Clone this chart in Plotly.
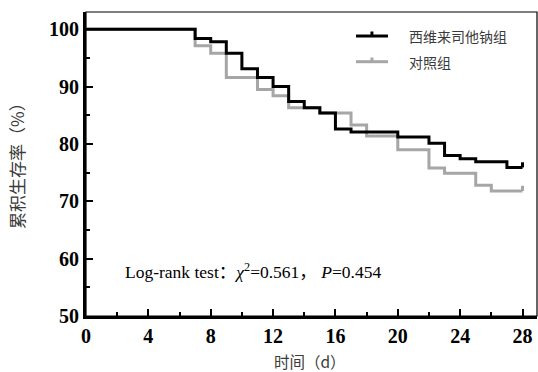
import plotly.graph_objects as go

# ---- data ----
days_a = [0, 7, 8, 9, 10, 11, 12, 13, 14, 15, 16, 17, 20, 22, 23, 24, 25, 27]
surv_a = [100, 98.4, 97.8, 95.8, 93.1, 91.6, 90.0, 87.4, 86.3, 85.4, 82.6, 82.1, 81.2, 80.1, 78.0, 77.4, 76.9, 75.9]
days_b = [0, 7, 8, 9, 11, 12, 13, 15, 17, 18, 20, 22, 23, 25, 26]
surv_b = [100, 97.1, 95.8, 91.6, 89.5, 88.4, 86.3, 85.4, 83.3, 81.4, 79.0, 75.8, 74.9, 72.8, 71.8]
end_day = 28
series_names = ["西维来司他钠组", "对照组"]
x_ticks = [0, 4, 8, 12, 16, 20, 24, 28]
y_ticks = [50, 60, 70, 80, 90, 100]
stat_text = "Log-rank test：<i>χ</i><sup>2</sup>=0.561， <i>P</i>=0.454"

BLACK = "#000000"
GRAY = "#a6a6a6"
LW = 3
CENSOR_LEN = 0.9  # tick height in y units (style)

fig = go.Figure()

def add_curve(days, surv, color, name):
    xs = list(days) + [end_day]
    ys = list(surv) + [surv[-1]]
    fig.add_trace(go.Scatter(x=xs, y=ys, mode="lines", line=dict(color=color, width=LW, shape="hv"),
                             name=name, showlegend=False, hoverinfo="skip"))
    fig.add_trace(go.Scatter(x=[end_day, end_day], y=[surv[-1], surv[-1] + CENSOR_LEN], mode="lines",
                             line=dict(color=color, width=LW), showlegend=False, hoverinfo="skip"))

add_curve(days_b, surv_b, GRAY, series_names[1])
add_curve(days_a, surv_a, BLACK, series_names[0])

SERIF = "Liberation Serif"
tickfont = dict(family=SERIF, size=20, color="black", weight="bold")
fig.update_xaxes(range=[0, 28.93], tickvals=x_ticks, ticks="inside", ticklen=7, tickwidth=2,
                 tickcolor="black", showline=True, linewidth=3, linecolor="black",
                 showgrid=False, zeroline=False, tickfont=tickfont,
                 minor=dict(dtick=2, tick0=0, ticks="inside", ticklen=4, tickwidth=2, tickcolor="black"))
fig.update_yaxes(range=[50, 103], tickvals=y_ticks, ticks="inside", ticklen=7, tickwidth=2,
                 tickcolor="black", showline=True, linewidth=3, linecolor="black",
                 showgrid=False, zeroline=False, tickfont=tickfont,
                 minor=dict(dtick=5, tick0=50, ticks="inside", ticklen=4, tickwidth=2, tickcolor="black"))

shapes = [dict(type="rect", xref="paper", yref="paper", x0=0, y0=0, x1=1, y1=1,
               line=dict(color="black", width=1.2), layer="above")]
# legend samples
leg = [(0.921, 0.9359, BLACK), (0.8365, 0.8503, GRAY)]
for y, ytop, c in leg:
    shapes.append(dict(type="line", xref="paper", yref="paper", x0=0.5987, x1=0.6696, y0=y, y1=y,
                       line=dict(color=c, width=LW)))
    shapes.append(dict(type="line", xref="paper", yref="paper", x0=0.634, x1=0.634, y0=y, y1=ytop,
                       line=dict(color=c, width=LW)))

cjk = "Noto Sans CJK SC"
TXT = "#3a3a3a"
annotations = [
    dict(text=series_names[0], xref="paper", yref="paper", x=0.7118, y=0.921, xanchor="left", yanchor="middle",
         showarrow=False, font=dict(family=cjk, size=14, color=TXT)),
    dict(text=series_names[1], xref="paper", yref="paper", x=0.7118, y=0.8365, xanchor="left", yanchor="middle",
         showarrow=False, font=dict(family=cjk, size=14, color=TXT)),
    dict(text=stat_text, xref="paper", yref="paper", x=0.082, y=0.148, xanchor="left", yanchor="middle",
         showarrow=False, font=dict(family="Liberation Serif, Noto Sans CJK SC", size=17.5, color="black")),
    dict(text="累积生存率（%）", xref="paper", yref="paper", x=-0.153, y=0.51, xanchor="center", yanchor="middle",
         textangle=-90, showarrow=False, font=dict(family=cjk, size=17, color=TXT)),
    dict(text="时间（d）", xref="paper", yref="paper", x=0.4967, y=-0.148, xanchor="center", yanchor="middle",
         showarrow=False, font=dict(family=cjk, size=15.5, color=TXT)),
]

fig.update_layout(width=538, height=372, margin=dict(l=86, r=1, t=12, b=56),
                  plot_bgcolor="white", paper_bgcolor="white", showlegend=False,
                  shapes=shapes, annotations=annotations)

fig.write_html("out.html")
